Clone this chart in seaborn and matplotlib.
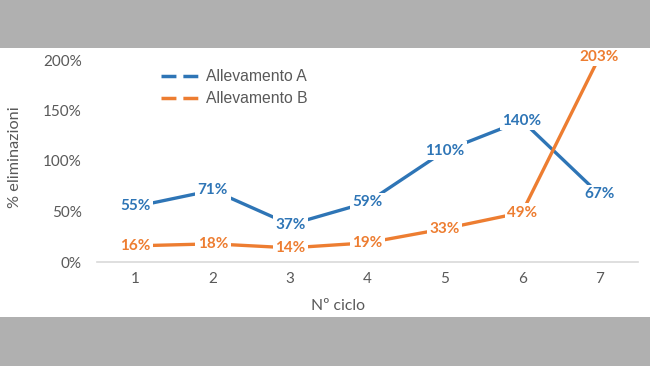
import matplotlib
matplotlib.use("Agg")
import matplotlib.pyplot as plt
import seaborn as sns
import pandas as pd
from matplotlib.patches import Rectangle
from matplotlib.lines import Line2D

cycles = [1, 2, 3, 4, 5, 6, 7]
series_a = [55, 71, 37, 59, 110, 140, 67]
series_b = [16, 18, 14, 19, 33, 49, 203]
series_names = ["Allevamento A", "Allevamento B"]
y_ticks = [0, 50, 100, 150, 200]

colors = ["#2E75B6", "#ED7D31"]

df = pd.DataFrame({
    "ciclo": cycles * 2,
    "val": series_a + series_b,
    "serie": [series_names[0]] * len(cycles) + [series_names[1]] * len(cycles),
})

sns.set_style("white")
plt.rcParams['font.family'] = ['Lato', 'DejaVu Sans']

fig = plt.figure(figsize=(6.5, 3.66), dpi=100)
fig.patches.append(Rectangle((0, 1 - 48 / 366), 1, 48 / 366, transform=fig.transFigure,
                             facecolor="#b0b0b0", edgecolor="none", zorder=0))
fig.patches.append(Rectangle((0, 0), 1, 49 / 366, transform=fig.transFigure,
                             facecolor="#b0b0b0", edgecolor="none", zorder=0))

ax = fig.add_axes([97 / 650, 1 - 262 / 366, (638 - 97) / 650, (262 - 60) / 366])
ax.set_facecolor("none")

sns.lineplot(data=df, x="ciclo", y="val", hue="serie", palette=colors, ax=ax,
             linewidth=2.4, legend=False, clip_on=False)

for vals, col in zip([series_a, series_b], colors):
    for x, v in zip(cycles, vals):
        ax.text(x, v, f"{v}%", color=col, fontsize=11, fontweight="bold",
                ha="center", va="center", family=["Lato", "DejaVu Sans"],
                bbox=dict(facecolor="white", edgecolor="none", pad=1.8), zorder=5,
                clip_on=False)

ax.set_xlim(0.5, 7.5)
ax.set_ylim(0, 200)
ax.set_xticks(cycles)
ax.set_yticks(y_ticks)
ax.set_yticklabels([f"{t}%" for t in y_ticks])
ax.tick_params(axis="both", length=0, labelsize=11, colors="#595959")
ax.tick_params(axis="x", pad=7)
ax.tick_params(axis="y", pad=11)
for s in ["top", "right", "left"]:
    ax.spines[s].set_visible(False)
ax.spines["bottom"].set_color("#d9d9d9")
ax.spines["bottom"].set_linewidth(1.2)

ax.set_xlabel("Nº ciclo", fontsize=11.3, color="#595959")
ax.set_ylabel("% eliminazioni", fontsize=11.7, color="#595959")
ax.xaxis.label.set_va("center")
ax.yaxis.label.set_va("center")
ax.xaxis.set_label_coords((338 - 97) / 541, (262 - 306) / 202)
ax.yaxis.set_label_coords((15 - 97) / 541, (262 - 157) / 202)

handles = [Line2D([0], [0], color=c, linewidth=2.5, linestyle=(0, (4.3, 2))) for c in colors]
leg = ax.legend(handles, series_names, loc="upper left",
                bbox_to_anchor=((161 - 97) / 541, 1 - 9 / 202),
                frameon=False, handlelength=2.4, handletextpad=0.45, labelspacing=0.45,
                borderpad=0, borderaxespad=0,
                prop={"family": "Liberation Sans", "size": 11.3})
for t in leg.get_texts():
    t.set_color("#595959")

fig.savefig("out.png", dpi=100)
